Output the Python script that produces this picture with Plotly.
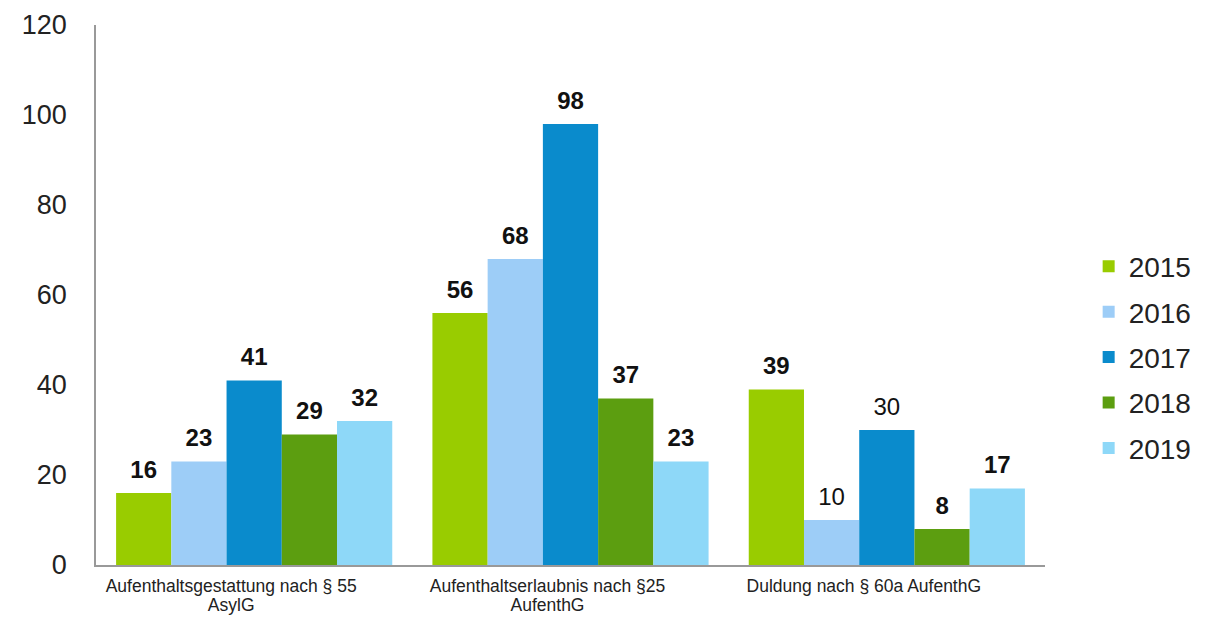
import plotly.graph_objects as go

categories = ["Aufenthaltsgestattung nach § 55<br>AsylG",
              "Aufenthaltserlaubnis nach §25<br>AufenthG",
              "Duldung nach § 60a AufenthG"]
years = ["2015", "2016", "2017", "2018", "2019"]
values = {
    "2015": [16, 56, 39],
    "2016": [23, 68, 10],
    "2017": [41, 98, 30],
    "2018": [29, 37, 8],
    "2019": [32, 23, 17],
}
bold = {
    "2015": [True, True, True],
    "2016": [True, True, False],
    "2017": [True, True, False],
    "2018": [True, True, True],
    "2019": [True, True, True],
}
colors = {
    "2015": "#99cc00",
    "2016": "#9dcdf7",
    "2017": "#0a8bcc",
    "2018": "#5c9e10",
    "2019": "#8ed8f8",
}


def label(v, b):
    core = f"<b>{v}</b>" if b else f"{v}"
    return f"<span style='font-size:24px'>{core}</span><br> "


def ticklab(c):
    return "<br>".join(f"<span style='font-size:17.5px'>{p}</span>" for p in c.split("<br>"))


fig = go.Figure()
for i, y in enumerate(years):
    txt = [label(v, b) for v, b in zip(values[y], bold[y])]
    fig.add_trace(go.Bar(
        name=y, x=categories, y=values[y], marker_color=colors[y],
        marker_line_width=0, text=txt, textposition="outside",
        textfont=dict(size=8, color="#111", family="Liberation Sans, Arial"),
        constraintext="none",
        cliponaxis=False, legendgroup=y,
    ))

fig.update_layout(
    width=1204, height=613,
    barmode="group", bargap=0.127, bargroupgap=0,
    plot_bgcolor="white", paper_bgcolor="white",
    margin=dict(l=88, r=167, t=17, b=56, autoexpand=False),
    font=dict(family="Liberation Sans, Arial", color="#222"),
    showlegend=True,
    legend=dict(x=1.046, y=0.385, yanchor="middle", xanchor="left",
                font=dict(size=28, color="#222"),
                traceorder="grouped", tracegroupgap=6,
                itemwidth=30),
    uniformtext=dict(mode=False),
)
fig.update_yaxes(range=[0, 120], tickvals=[0, 20, 40, 60, 80, 100, 120],
                 showgrid=False, zeroline=False, showline=True,
                 linecolor="#999", linewidth=1.5, ticks="",
                 ticklabelstandoff=22, automargin=False,
                 tickfont=dict(size=27, color="#222"))
fig.update_xaxes(showgrid=False, showline=True, linecolor="#999", linewidth=1.5,
                 ticks="", tickfont=dict(size=14.6, color="#222"),
                 tickvals=categories, ticktext=[ticklab(c) for c in categories],
                 automargin=False,
                 ticklabelshift=-23, ticklabelstandoff=8)

fig.write_html("out.html")
